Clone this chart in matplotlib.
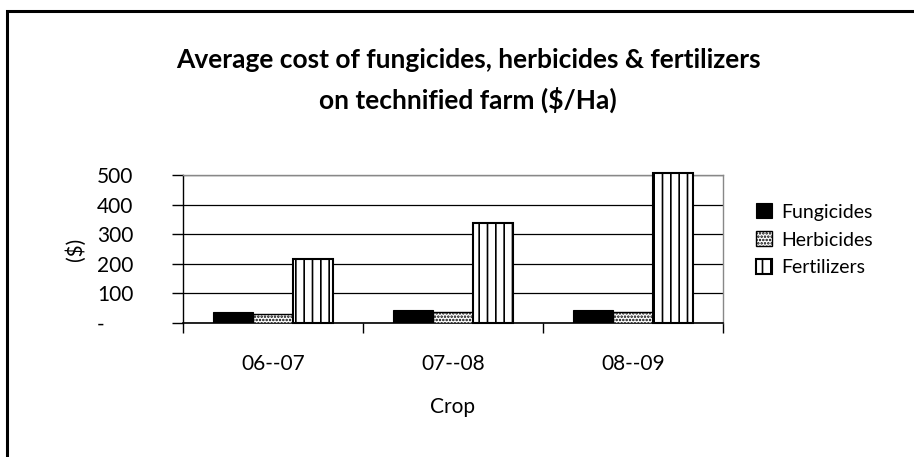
import matplotlib
matplotlib.use("Agg")
import matplotlib.pyplot as plt
import numpy as np
from matplotlib.patches import Rectangle

plt.rcParams['font.family'] = ['Lato', 'DejaVu Sans']
plt.rcParams['hatch.linewidth'] = 1.2

categories = ["06--07", "07--08", "08--09"]
fungicides = [36, 44, 44]
herbicides = [31, 36, 36]
fertilizers = [215, 339, 508]
yticks = [0, 100, 200, 300, 400, 500]
yticklabels = ["-", "100", "200", "300", "400", "500"]

fig = plt.figure(figsize=(9.14, 4.57), dpi=100)
ax = fig.add_axes([0.2002, 0.2932, 0.5908, 0.3238])

# outer frame (cropped at right and bottom in reference)
fig.patches.append(Rectangle((7/914, -0.05), 1.1, 1 - 11/457 + 0.05, transform=fig.transFigure,
                             fill=False, edgecolor='black', linewidth=2.2))

x = np.arange(len(categories))
w = 1/4.5
ax.bar(x - w, fungicides, w, color='black', edgecolor='black', linewidth=0.8, label='Fungicides', zorder=3)
ax.bar(x, herbicides, w, color='white', edgecolor='black', linewidth=1.0, hatch='.....', label='Herbicides', zorder=3)
ax.bar(x + w, fertilizers, w, color='white', edgecolor='black', linewidth=1.5, hatch='||', label='Fertilizers',
       zorder=3, clip_on=False)

ax.set_xlim(-0.5, 2.5)
ax.set_ylim(0, 500)
ax.set_yticks(yticks)
ax.set_yticklabels(yticklabels, fontsize=15)
for t in ax.get_yticklabels():
    t.set_horizontalalignment('left')
ax.yaxis.grid(True, color='black', linewidth=0.9, zorder=0)
ax.set_axisbelow(True)
ax.set_xticks([-0.5, 0.5, 1.5, 2.5])
ax.set_xticklabels([])
ax.set_xticks(x, minor=True)
ax.set_xticklabels(categories, minor=True, fontsize=15)
ax.tick_params(axis='x', which='minor', length=0, pad=22)
ax.tick_params(axis='x', which='major', length=7, width=1, direction='out')
ax.tick_params(axis='y', length=8, width=1, direction='out', pad=54)

for s in ['top', 'right']:
    ax.spines[s].set_color('#888888')
    ax.spines[s].set_linewidth(1)
ax.spines['left'].set_linewidth(1)
ax.spines['bottom'].set_linewidth(1.2)

ax.set_ylabel("($)", fontsize=15, labelpad=8)
ax.set_xlabel("Crop", fontsize=15, labelpad=17)

fig.text(0.512, 0.868, "Average cost of fungicides, herbicides & fertilizers",
         ha='center', va='center', fontsize=19, fontweight='bold')
fig.text(0.512, 0.782, "on technified farm ($/Ha)",
         ha='center', va='center', fontsize=19, fontweight='bold')

leg = fig.legend(loc='center left', bbox_to_anchor=(0.808, 0.475), frameon=False, fontsize=14,
                 handlelength=0.8, handleheight=0.8, handletextpad=0.5, labelspacing=0.55)

fig.savefig("out.png", dpi=100)
